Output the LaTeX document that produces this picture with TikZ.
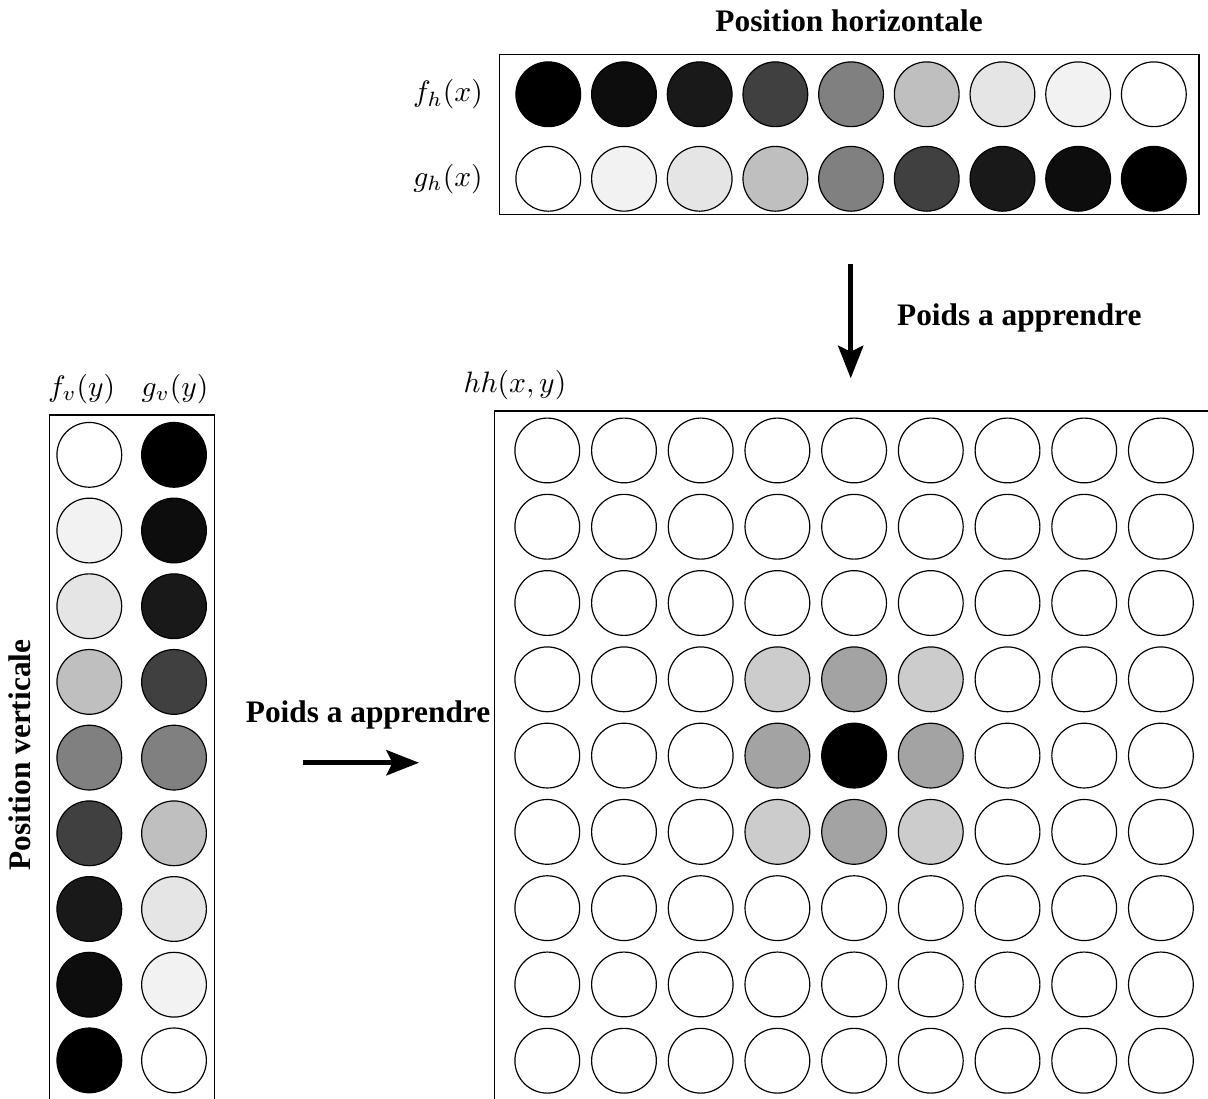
\documentclass[tikz,border=0pt]{standalone}
\usepackage{amsmath,amssymb}
\usepackage[no-math]{fontspec}
\newfontfamily\titrefont{Liberation Serif}
\usepackage{tikz}
\usetikzlibrary{positioning,arrows.meta}
\usepackage{xcolor}

\tikzset{
  neur/.style={circle,draw,thin,minimum size=0.77cm,inner sep=0pt},
  titre/.style={font=\titrefont\bfseries\fontsize{10.6pt}{12pt}\selectfont},
  cadre/.style={draw,line width=0.5pt},
  fleche/.style={->,line width=1.6pt}
}

\begin{document}
\begin{tikzpicture}[>={Stealth[length=11pt,width=8.5pt,inset=2pt]}]
\path[use as bounding box,clip] (0,0) rectangle (14.363,-13.067);

% position horizontale
\node[titre,anchor=base] (tith) at (10.095,-0.377) {Position horizontale};
\draw[cadre] (5.937,-0.646) rectangle (14.253,-2.548);
\node (fh) at (5.327,-1.121) {$f_h(x)$};
\node (gh) at (5.327,-2.126) {$g_h(x)$};
\foreach \p [count=\i from 0] in {100,95,90,75,50,25,10,5,0}
  \node[neur,fill=black!\p] (fh\i) at (6.519+0.9*\i,-1.121) {};
\foreach \p [count=\i from 0] in {0,5,10,25,50,75,90,95,100}
  \node[neur,fill=black!\p] (gh\i) at (6.519+0.9*\i,-2.126) {};

\coordinate (va) at (10.115,-3.139);
\coordinate (vb) at (10.115,-4.498);
\draw[fleche] (va) -- (vb);
\node[titre,anchor=base west] (poidsv) at (10.543,-3.876) {Poids a apprendre};

% position verticale
\node[titre,rotate=90,anchor=base] (titv) at (0.357,-8.977) {Position verticale};
\draw[cadre] (0.586,-4.934) rectangle (2.548,-13.09);
\node (fv) at (0.971,-4.625) {$f_v(y)$};
\node (gv) at (2.081,-4.625) {$g_v(y)$};
\foreach \p [count=\i from 0] in {0,5,10,25,50,75,90,95,100}
  \node[neur,fill=black!\p] (fv\i) at (1.062,-5.408-0.9*\i) {};
\foreach \p [count=\i from 0] in {100,95,90,75,50,25,10,5,0}
  \node[neur,fill=black!\p] (gv\i) at (2.069,-5.408-0.9*\i) {};

\coordinate (ha) at (3.606,-9.069);
\coordinate (hb) at (4.982,-9.069);
\draw[fleche] (ha) -- (hb);
\node[titre,anchor=base] (poidsh) at (4.376,-8.59) {Poids a apprendre};

% carte hh(x,y)
\node (hh) at (6.123,-4.578) {$hh(x,y)$};
\draw[cadre] (5.882,-4.887) rectangle (14.45,-13.2);
\foreach \r in {0,...,8}
  \foreach \c in {0,...,8} {
    \pgfmathtruncatemacro\d{abs(\r-4)+abs(\c-4)}
    \pgfmathtruncatemacro\m{max(abs(\r-4),abs(\c-4))}
    \pgfmathtruncatemacro\g{\m>1 ? 0 : (\d==0 ? 100 : (\d==1 ? 36 : 20))}
    \node[neur,fill=black!\g] (hh-\r-\c) at (6.507+0.912*\c,-5.356-0.907*\r) {};
  }
\end{tikzpicture}
\end{document}
